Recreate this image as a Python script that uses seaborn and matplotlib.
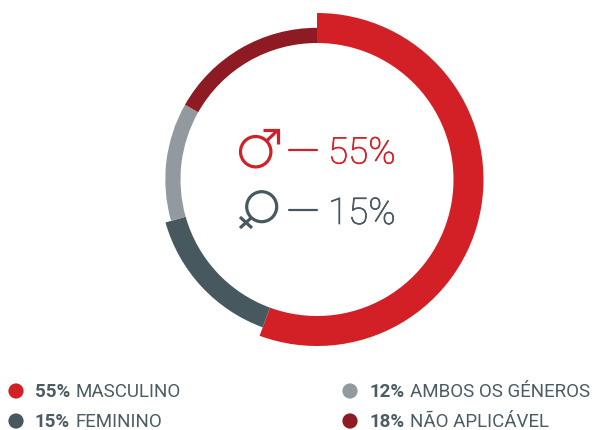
import matplotlib
matplotlib.use('Agg')
import matplotlib.pyplot as plt
import matplotlib.patheffects as pe
import pandas as pd
import seaborn as sns
from matplotlib.patches import Circle

labels = ['MASCULINO', 'FEMININO', 'AMBOS OS GÉNEROS', 'NÃO APLICÁVEL']
legend_pct = [55, 15, 12, 18]
# arc lengths as drawn in the picture, they differ a little from the printed numbers
arc_shares = [55.6, 15.0, 12.6, 16.8]
colors = ['#d32027', '#47585f', '#939a9f', '#8e1a23']
male_pct = 55
female_pct = 15

sns.set_theme(style='white')
plt.rcParams['font.family'] = ['Roboto', 'DejaVu Sans']
text_color = '#4c5c64'

fig = plt.figure(figsize=(5.95, 4.30), dpi=100)

# ring, in pixel units. every slice starts at the same inner radius
ax_pie = fig.add_axes([0, 0, 1, 1])
wedges, _ = ax_pie.pie(arc_shares, colors=colors, startangle=90, counterclock=False,
                       center=(317, 250.5), radius=151.7, wedgeprops=dict(width=15.2, linewidth=0))
for wedge, outer in zip(wedges, [166.5, 157.5, 151.7, 151.7]):
    wedge.set_radius(outer)
    wedge.set_width(outer - 136.5)
ax_pie.set_xlim(0, 595)
ax_pie.set_ylim(0, 430)
ax_pie.axis('off')

# overlay with y going down, so it reads like the picture
ax = fig.add_axes([0, 0, 1, 1])
ax.set_xlim(0, 595)
ax.set_ylim(430, 0)
ax.axis('off')
ax.patch.set_alpha(0)

# male symbol
red, slate = colors[0], colors[1]
lw = 2.3
ax.add_patch(Circle((255.7, 151.7), 15.2, fill=False, ec=red, lw=lw))
ax.plot([266.5, 278], [141, 130], color=red, lw=lw, solid_capstyle='butt')
ax.plot([263, 278, 278], [130, 130, 144], color=red, lw=lw, solid_joinstyle='miter', solid_capstyle='butt')
ax.plot([289, 317], [150, 150], color=red, lw=1.6)
t1 = ax.text(328, 163.5, '{}%'.format(male_pct), color=red, fontsize=26.5, fontweight='light', ha='left', va='baseline')
t1.set_path_effects([pe.withStroke(linewidth=0.5, foreground=red)])

# female symbol
ax.add_patch(Circle((261.7, 206.7), 15, fill=False, ec=slate, lw=lw))
ax.plot([251, 240], [218, 228], color=slate, lw=lw, solid_capstyle='butt')
ax.plot([240, 252], [217, 228], color=slate, lw=lw, solid_capstyle='butt')
ax.plot([289, 317], [209.5, 209.5], color=slate, lw=1.6)
t2 = ax.text(328, 224, '{}%'.format(female_pct), color=slate, fontsize=26.5, fontweight='light', ha='left', va='baseline')
t2.set_path_effects([pe.withStroke(linewidth=0.5, foreground=slate)])

# legend
leg = pd.DataFrame({'label': labels, 'value': legend_pct})
leg['x'] = [16, 16, 350, 350]
leg['y'] = [391, 421, 391, 421]
sns.scatterplot(data=leg, x='x', y='y', hue='label', palette=colors, s=120, linewidth=0, legend=False, ax=ax)
ax.set_xlim(0, 595)
ax.set_ylim(430, 0)
ax.axis('off')

for row, x0, x1 in zip(leg.itertuples(), [34.5, 34.5, 369.5, 369.5], [75.5, 75.5, 410.5, 410.5]):
    ax.text(x0, row.y + 6, '{}%'.format(row.value), color=text_color, fontsize=13.5, fontweight='bold', ha='left', va='baseline')
    ax.text(x1, row.y + 6, row.label, color=text_color, fontsize=13.5, ha='left', va='baseline')

fig.savefig('out.png', dpi=100)
